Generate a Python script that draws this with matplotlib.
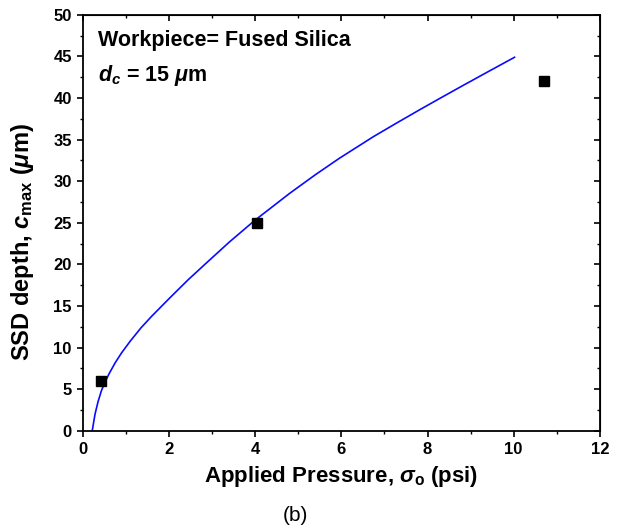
import numpy as np
import matplotlib.pyplot as plt

plt.rcParams['font.family'] = ['Liberation Sans', 'DejaVu Sans']
plt.rcParams['mathtext.fontset'] = 'custom'
plt.rcParams['mathtext.rm'] = 'Liberation Sans:bold'
plt.rcParams['mathtext.it'] = 'Liberation Sans:italic:bold'
plt.rcParams['mathtext.bf'] = 'Liberation Sans:bold'

# measured points (squares)
pressure = [0.43, 4.05, 10.7]
ssd_depth = [6.0, 25.0, 42.0]

# model curve
curve_x = [0.215, 0.28, 0.35, 0.43, 0.52, 0.61, 0.75, 0.9, 1.1, 1.35, 1.6, 2.02,
           2.44, 2.87, 3.4, 3.99, 4.8, 5.4, 5.95, 6.74, 7.3, 7.82, 8.3, 8.82,
           9.4, 10.02]
curve_y = [0.0, 2.0, 3.5, 4.85, 5.95, 6.9, 8.2, 9.4, 10.8, 12.4, 13.8, 16.0,
           18.15, 20.2, 22.7, 25.3, 28.55, 30.8, 32.75, 35.35, 37.05, 38.6, 40.0,
           41.5, 43.15, 44.9]

fig = plt.figure(figsize=(6.19, 5.30), dpi=100)
ax = fig.add_axes([0.134, 0.187, 0.835, 0.785])

ax.plot(curve_x, curve_y, color='#0a0aff', lw=1.2)
ax.plot(pressure, ssd_depth, 's', color='black', ms=6.5)

ax.set_xlim(0, 12)
ax.set_ylim(0, 50)
ax.set_xticks(np.arange(0, 13, 2))
ax.set_xticks(np.arange(0, 13, 1), minor=True)
ax.set_yticks(np.arange(0, 51, 5))
ax.set_yticks(np.arange(0, 51, 2.5), minor=True)

for s in ax.spines.values():
    s.set_linewidth(1.3)
ax.tick_params(which='major', direction='out', length=4.5, width=1.2, labelsize=12)
ax.tick_params(which='minor', direction='out', length=2.5, width=1.0)
for lab in ax.get_xticklabels() + ax.get_yticklabels():
    lab.set_fontweight('bold')

# mirrored ticks on top / right pointing inwards
top = ax.secondary_xaxis('top')
top.set_xticks(np.arange(0, 13, 2))
top.set_xticks(np.arange(0, 13, 1), minor=True)
top.tick_params(which='major', direction='in', length=4.5, width=1.2, labeltop=False)
top.tick_params(which='minor', direction='in', length=2.5, width=1.0)
right = ax.secondary_yaxis('right')
right.set_yticks(np.arange(0, 51, 5))
right.set_yticks(np.arange(0, 51, 2.5), minor=True)
right.tick_params(which='major', direction='in', length=4.5, width=1.2, labelright=False)
right.tick_params(which='minor', direction='in', length=2.5, width=1.0)

ax.set_xlabel(r'Applied Pressure, $\sigma_{\rm o}$ (psi)', fontsize=16, fontweight='bold', labelpad=5)
ax.set_ylabel(r'SSD depth, $c_{\rm max}$ ($\mu$m)', fontsize=17, fontweight='bold')
ax.yaxis.set_label_coords(-0.091, 0.455)

ax.text(0.029, 0.9375, 'Workpiece= Fused Silica', transform=ax.transAxes,
        fontsize=15.5, fontweight='bold', va='center')
ax.text(0.029, 0.853, r'$d_c$ = 15 $\mu$m', transform=ax.transAxes,
        fontsize=15.5, fontweight='bold', va='center')

fig.text(0.477, 0.028, '(b)', fontsize=15, ha='center', va='center')

fig.savefig('out.png', dpi=100)
